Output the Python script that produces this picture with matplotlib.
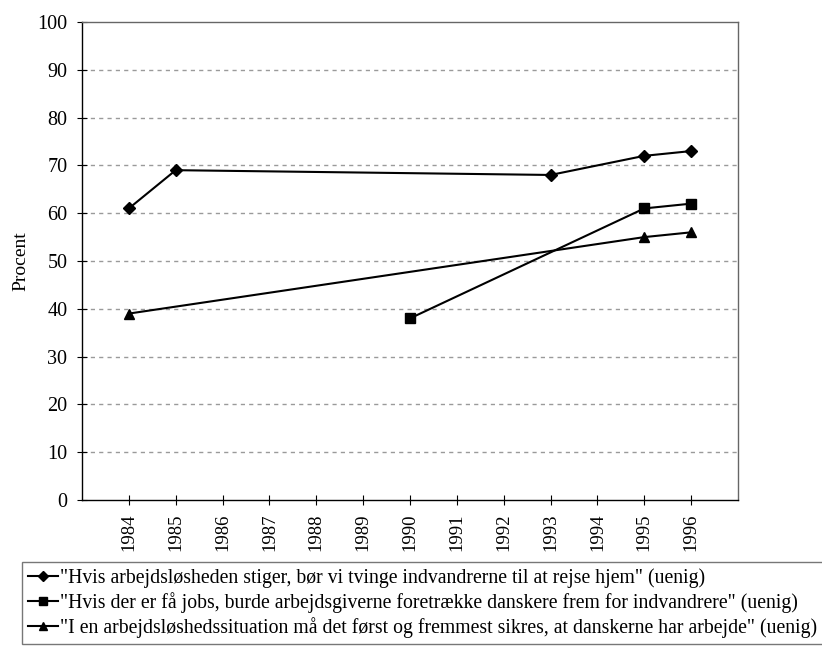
import numpy as np
import matplotlib
matplotlib.use("Agg")
import matplotlib.pyplot as plt

plt.rcParams["font.family"] = ["Liberation Serif", "DejaVu Serif"]

years = ["1984", "1985", "1986", "1987", "1988", "1989", "1990",
         "1991", "1992", "1993", "1994", "1995", "1996"]

# (year, value) pairs per series
s1_years = ["1984", "1985", "1993", "1995", "1996"]
s1_vals = [61, 69, 68, 72, 73]
s2_years = ["1990", "1995", "1996"]
s2_vals = [38, 61, 62]
s3_years = ["1984", "1995", "1996"]
s3_vals = [39, 55, 56]

labels = [
    '"Hvis arbejdsløsheden stiger, bør vi tvinge indvandrerne til at rejse hjem" (uenig)',
    '"Hvis der er få jobs, burde arbejdsgiverne foretrække danskere frem for indvandrere" (uenig)',
    '"I en arbejdsløshedssituation må det først og fremmest sikres, at danskerne har arbejde" (uenig)',
]

fig = plt.figure(figsize=(8.22, 6.48), dpi=100)
ax = fig.add_axes([82 / 822, 1 - 500 / 648, (738 - 82) / 822, (500 - 22) / 648])

pos = {y: i for i, y in enumerate(years)}
series = [(s1_years, s1_vals, "D", 6.5), (s2_years, s2_vals, "s", 7), (s3_years, s3_vals, "^", 7.5)]
for (ys, vals, mk, ms), lab in zip(series, labels):
    ax.plot([pos[y] for y in ys], vals, color="black", lw=1.5,
            marker=mk, markersize=ms, label=lab)

ax.set_xlim(-1, len(years))
ax.set_ylim(0, 100)
ax.set_xticks(range(len(years)))
ax.set_xticklabels(years, rotation=90, fontsize=13.5)
ax.set_yticks(range(0, 101, 10))
ax.tick_params(axis="y", labelsize=14.5, direction="inout", length=7, width=0.8, pad=7)
ax.tick_params(axis="x", direction="inout", length=7, width=0.8, pad=6)

for v in range(10, 100, 10):
    ax.axhline(v, color="#9a9a9a", lw=1.0, ls=(0, (3, 3)), zorder=0)

ax.spines["left"].set_color("black")
ax.spines["bottom"].set_color("black")
ax.spines["top"].set_color("#666666")
ax.spines["right"].set_color("#666666")
for s in ax.spines.values():
    s.set_linewidth(1.0)

ax.set_ylabel("Procent", fontsize=14, labelpad=6)

leg = fig.legend(loc="upper left", bbox_to_anchor=(22 / 822, 1 - 562 / 648),
                 fontsize=14.2, frameon=True, fancybox=False, edgecolor="#555555",
                 handlelength=1.5, handletextpad=0.15, labelspacing=0.22,
                 borderpad=0.3, borderaxespad=0, markerscale=0.8)
leg.get_frame().set_linewidth(1.0)

fig.savefig("out.png", dpi=100, facecolor="white")
